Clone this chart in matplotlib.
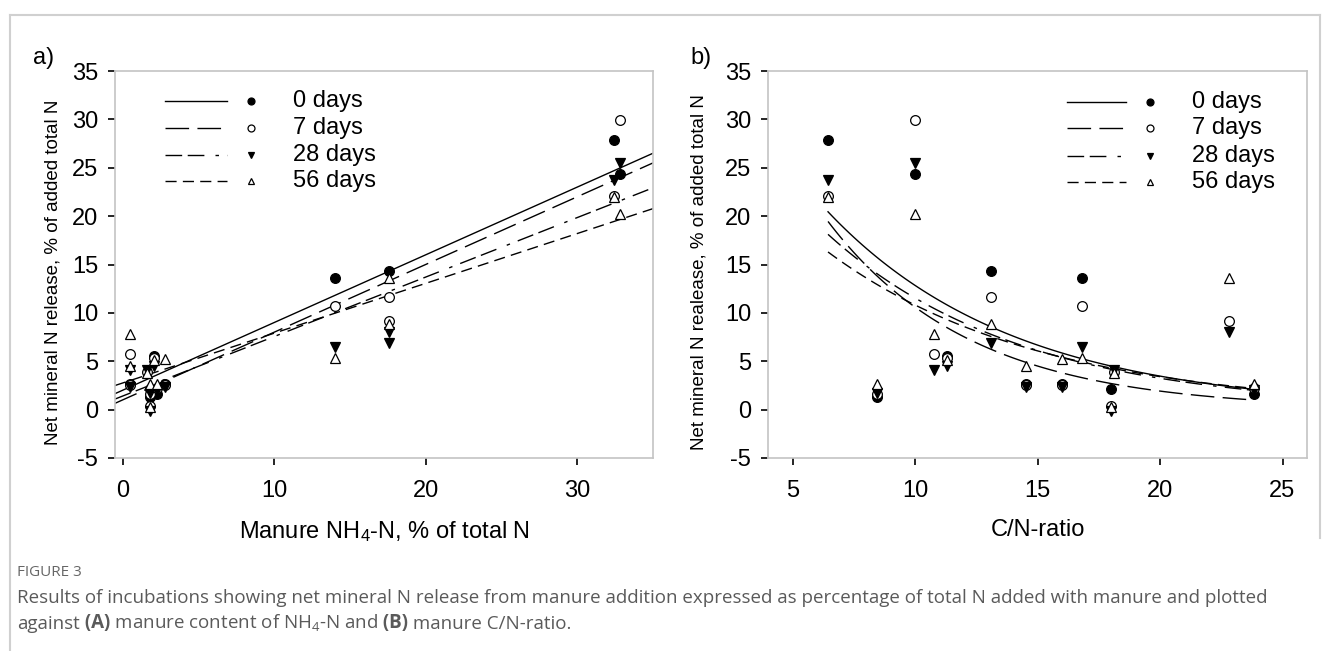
import numpy as np
import matplotlib.pyplot as plt
from matplotlib.lines import Line2D

plt.rcParams['font.family'] = ['Liberation Sans', 'DejaVu Sans']
plt.rcParams['mathtext.default'] = 'regular'
plt.rcParams['axes.unicode_minus'] = False

# one entry per manure
manure_nh4 = [32.4, 32.8, 17.6, 14.0, 17.6, 0.5, 0.5, 2.1, 2.8, 1.6, 1.8, 1.8, 2.3]
manure_cn = [6.45, 9.98, 13.12, 16.8, 22.8, 10.76, 14.55, 11.29, 16.02, 18.14, 17.98, 8.43, 23.82]
release_0d = [27.9, 24.4, 14.3, 13.6, np.nan, np.nan, 2.6, 5.5, 2.7, np.nan, 2.1, 1.3, 1.6]
release_7d = [22.1, 29.9, 11.6, 10.7, 9.2, 5.8, 2.5, 5.3, 2.5, 3.9, 0.4, 1.6, 2.2]
release_28d = [23.7, 25.5, 6.9, 6.5, 8.0, 4.1, 2.3, 4.5, 2.3, 4.1, -0.1, 1.7, 2.0]
release_56d = [22.0, 20.2, 8.9, 5.3, 13.6, 7.85, 4.5, 5.1, 5.2, 3.8, 0.3, 2.6, 2.7]

day_labels = ['0 days', '7 days', '28 days', '56 days']

# linear fits vs NH4-N (intercept, slope)
lin_intercept = [2.0, 1.0, 1.4, 2.75]
lin_slope = [0.70, 0.70, 0.615, 0.515]
# exponential fits vs C/N (a * exp(-b * x))
exp_a = [47.6, 58.6, 41.1, 34.3]
exp_b = [0.131, 0.171, 0.127, 0.1154]

W, H = 1331, 651
fig = plt.figure(figsize=(W / 100, H / 100), dpi=100)

series = [release_0d, release_7d, release_28d, release_56d]
styles = [
    dict(ls='-'),
    dict(ls=(0, (17, 6))),
    dict(ls=(0, (12, 4, 12, 8, 2.5, 6))),
    dict(ls=(0, (8, 4.5))),
]
marks = [
    dict(marker='o', mfc='black', mec='black'),
    dict(marker='o', mfc='white', mec='black'),
    dict(marker='v', mfc='black', mec='black'),
    dict(marker='^', mfc='white', mec='black'),
]


def px_axes(left, top, right, bottom):
    return fig.add_axes([left / W, 1 - bottom / H, (right - left) / W, (bottom - top) / H])


def style_axes(ax):
    for sp in ax.spines.values():
        sp.set_color('#c4c4c4')
        sp.set_linewidth(1.2)
    ax.tick_params(direction='out', length=5, width=1.2, color='black', labelsize=17)
    ax.tick_params(axis='x', pad=11)
    ax.tick_params(axis='y', pad=7)
    ax.set_ylim(-5, 35)
    ax.set_yticks(range(-5, 36, 5))


def draw_legend(ax, x0, x1, xm, xt, rows):
    for i in range(4):
        y = rows[i]
        ax.add_line(Line2D([x0, x1], [y, y], transform=ax.transAxes, color='black',
                           lw=1.0, **styles[i]))
        ax.plot(xm, y, transform=ax.transAxes, ms=5, mew=0.9, ls='none', **marks[i])
        ax.text(xt, y, day_labels[i], transform=ax.transAxes, fontsize=17,
                va='center', ha='left')


# panel a
ax_a = px_axes(115, 71, 653, 458)
style_axes(ax_a)
ax_a.set_xlim(-0.5, 35)
ax_a.set_xticks([0, 10, 20, 30])
xs = np.linspace(-0.5, 35, 50)
for i in range(4):
    ax_a.plot(xs, lin_intercept[i] + lin_slope[i] * xs, color='black', lw=1.0, **styles[i])
for i in range(4):
    ax_a.plot(manure_nh4, series[i], ls='none', ms=7, mew=0.9, zorder=3, **marks[i])
ax_a.set_xlabel('Manure NH$_4$-N, % of total N', fontsize=17, labelpad=12)
ax_a.set_ylabel('Net mineral N release, % of added total N', fontsize=13.5)
ax_a.yaxis.set_label_coords(-0.100, 0.48)
draw_legend(ax_a, 0.093, 0.208, 0.253, 0.331, [0.922, 0.853, 0.783, 0.716])

# panel b
ax_b = px_axes(768, 71, 1307, 458)
style_axes(ax_b)
ax_b.set_xlim(4, 26)
ax_b.set_xticks([5, 10, 15, 20, 25])
xc = np.linspace(min(manure_cn), max(manure_cn), 100)
for i in range(4):
    ax_b.plot(xc, exp_a[i] * np.exp(-exp_b[i] * xc), color='black', lw=1.0, **styles[i])
for i in range(4):
    ax_b.plot(manure_cn, series[i], ls='none', ms=7, mew=0.9, zorder=3, **marks[i])
ax_b.set_xlabel('C/N-ratio', fontsize=17, labelpad=12)
ax_b.set_ylabel('Net mineral N realease, % of added total N', fontsize=13.5)
ax_b.yaxis.set_label_coords(-0.113, 0.48)
draw_legend(ax_b, 0.555, 0.664, 0.709, 0.787, [0.920, 0.853, 0.780, 0.713])

fig.text(44 / W, 1 - 58 / H, 'a)', fontsize=17, ha='center', va='center')
fig.text(701 / W, 1 - 58 / H, 'b)', fontsize=17, ha='center', va='center')

# frame around the figure image
border = '#d0d0d0'
fig.add_artist(Line2D([10 / W, 1320 / W], [1 - 15 / H, 1 - 15 / H], color=border, lw=1.5))
fig.add_artist(Line2D([10 / W, 10 / W], [1 - 15 / H, 0], color=border, lw=1.5))
fig.add_artist(Line2D([1320 / W, 1320 / W], [1 - 15 / H, 1 - 538 / H], color=border, lw=1.5))

# caption
cap_font = ['Open Sans', 'DejaVu Sans']
cap_color = '#5a5a5a'
cap_size = 13.5
fig.text(17 / W, 1 - 572 / H, 'FIGURE 3', fontsize=11, color='#666666',
         family=cap_font, va='center')
fig.text(17 / W, 1 - 598 / H,
         'Results of incubations showing net mineral N release from manure addition '
         'expressed as percentage of total N added with manure and plotted',
         fontsize=cap_size, color=cap_color, family=cap_font, va='center')

# second caption line: pieces chained one after another
pieces = [(' (A)', 'bold'), (' manure content of NH$_4$-N and', 'normal'),
          (' (B)', 'bold'), (' manure C/N-ratio.', 'normal')]
prev = fig.text(17 / W, 1 - 633 / H, 'against', fontsize=cap_size, color=cap_color,
                family=cap_font, va='bottom')
for txt, wt in pieces:
    prev = fig.add_artist(plt.Annotation(
        txt, xy=(1, 0), xycoords=prev, xytext=(0, 0), textcoords='offset points',
        fontsize=cap_size, color=cap_color, family=cap_font, fontweight=wt,
        va='bottom', ha='left', annotation_clip=False))

fig.savefig('out.png', dpi=100)
